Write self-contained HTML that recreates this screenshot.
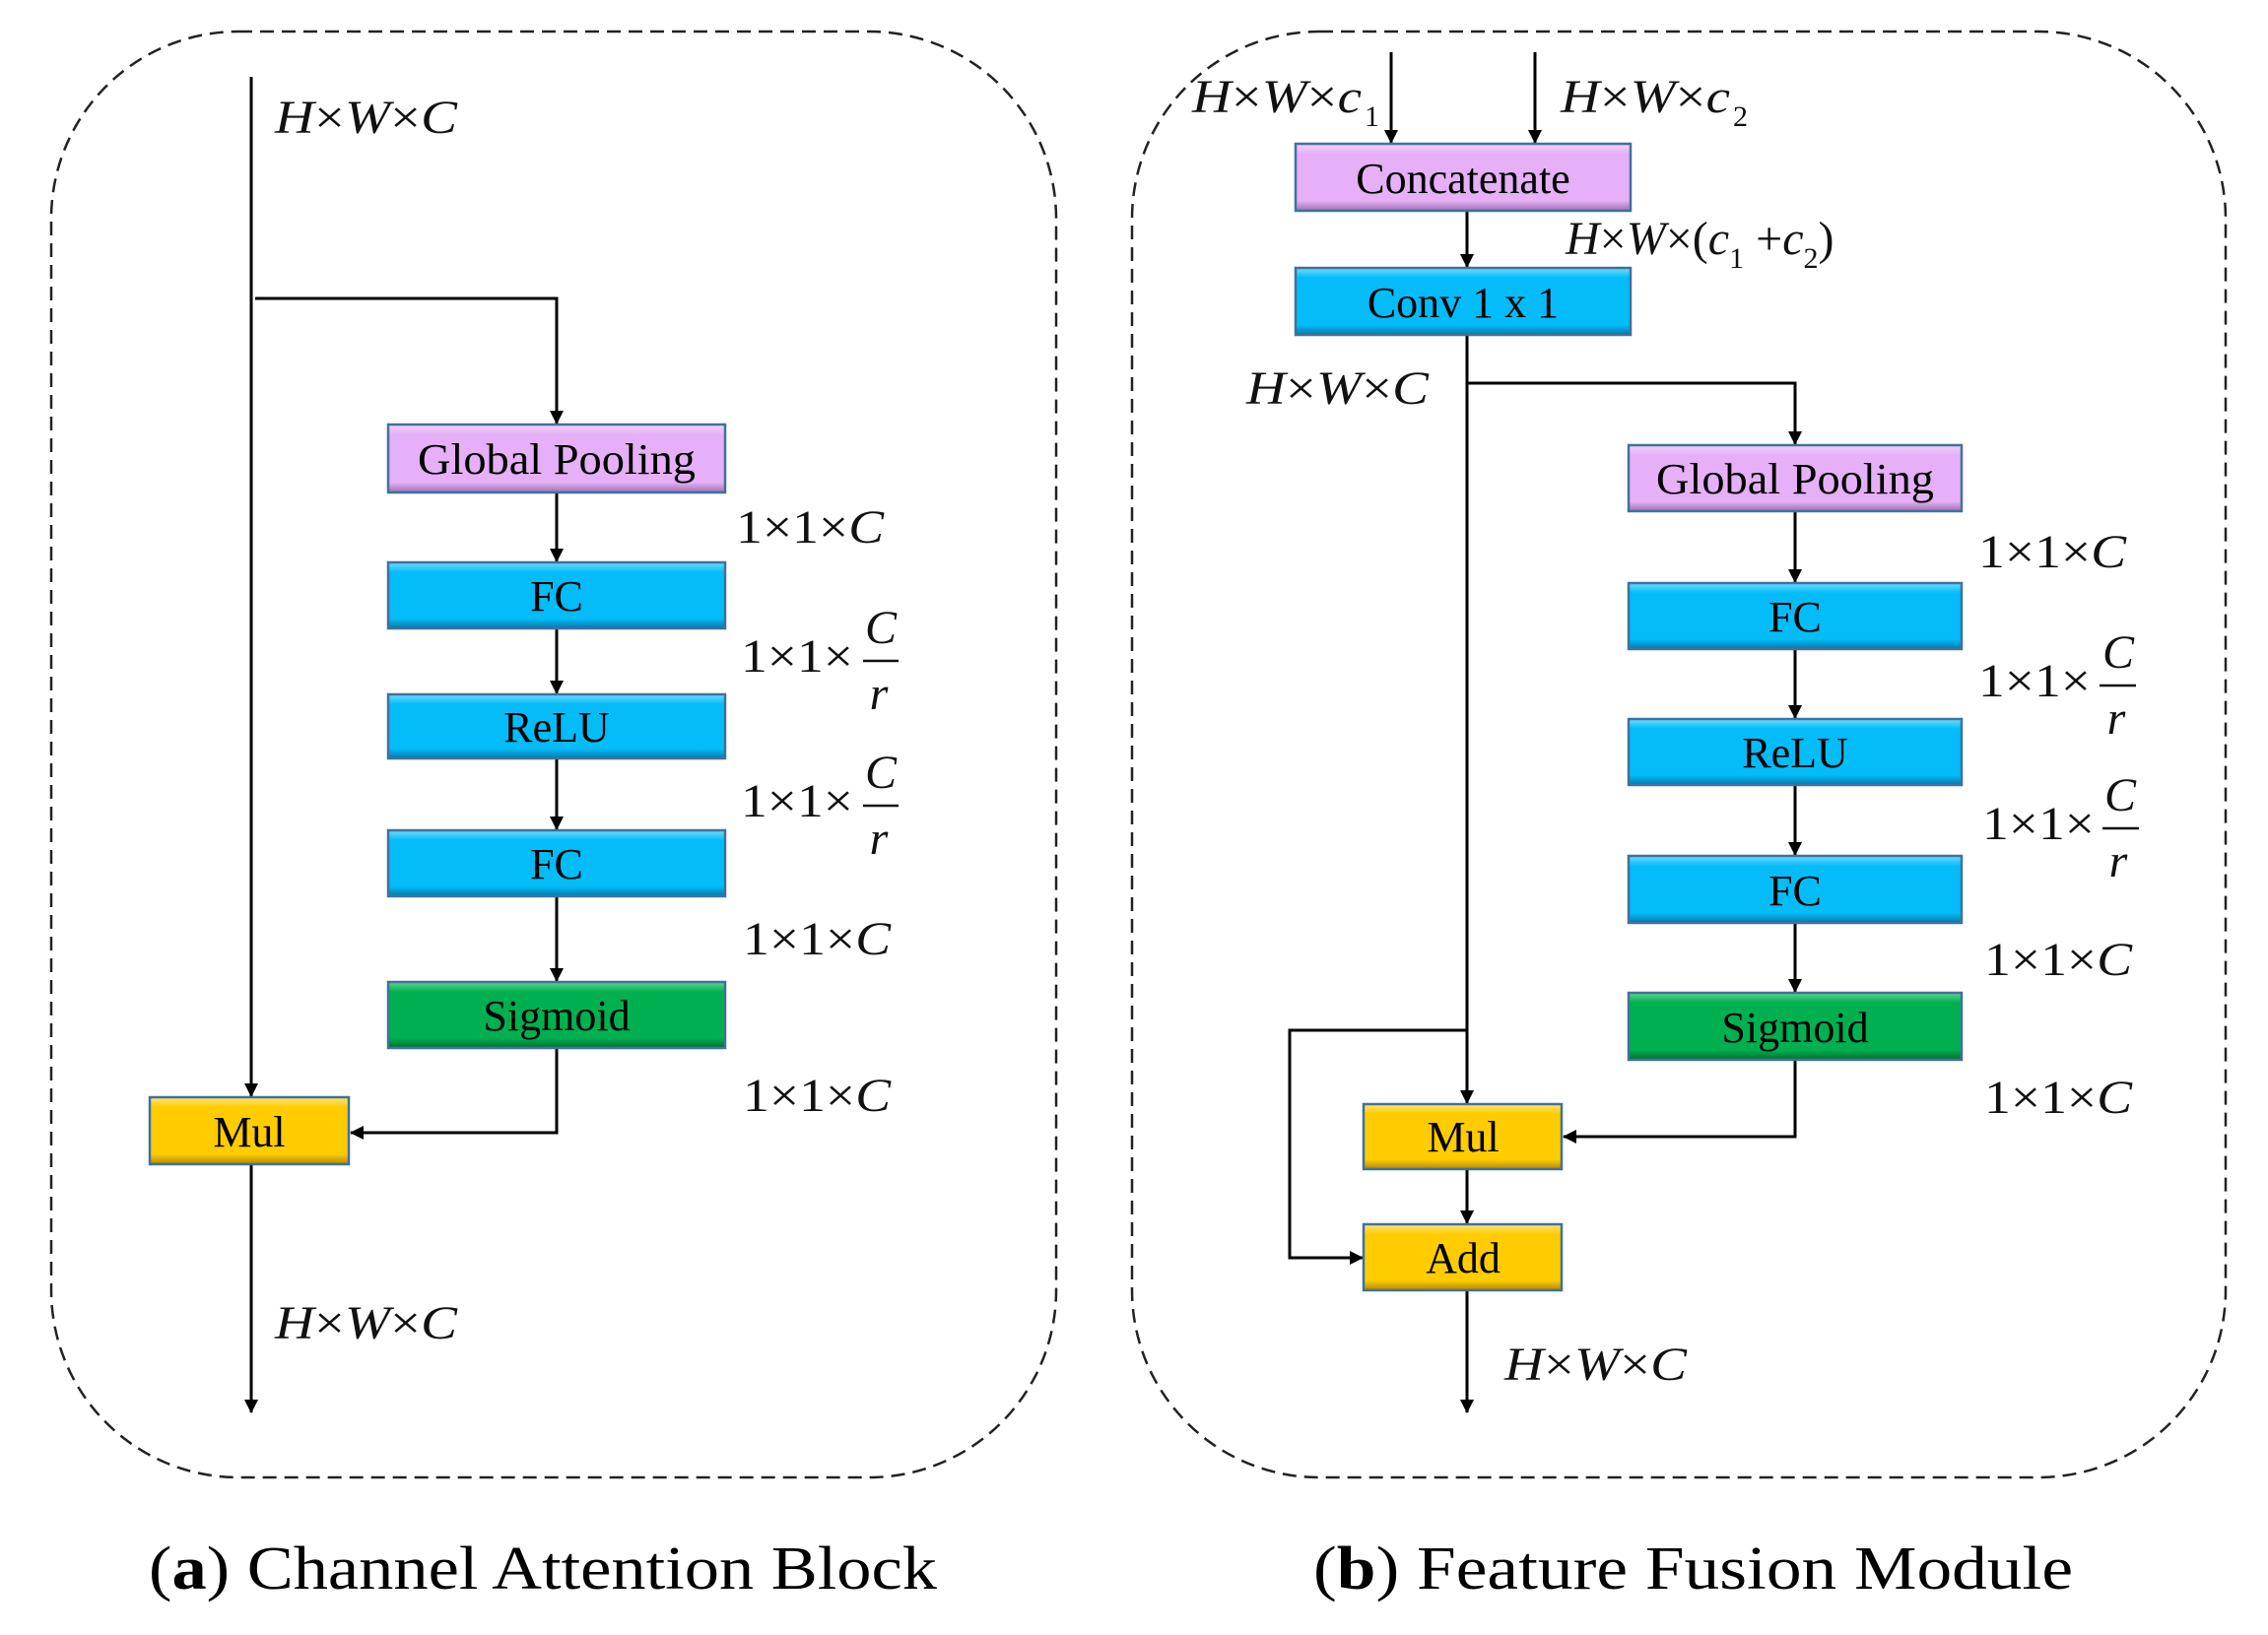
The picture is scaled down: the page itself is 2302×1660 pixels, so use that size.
<!DOCTYPE html>
<html><head><meta charset="utf-8"><style>
html,body{margin:0;padding:0;background:#fff;}
svg{display:block;}
.bt{font-family:"Liberation Serif",serif;font-size:44px;fill:#000;}
.mi{font-family:"Liberation Serif",serif;font-size:48px;font-style:italic;fill:#111;}
.mu{font-family:"Liberation Serif",serif;font-size:48px;fill:#111;}
.sub{font-family:"Liberation Serif",serif;font-size:30px;fill:#111;}
.cap{font-family:"Liberation Serif",serif;font-size:62px;fill:#000;}
</style></head><body>
<svg width="2302" height="1660" viewBox="0 0 2302 1660" xmlns="http://www.w3.org/2000/svg">
<defs>
<marker id="ah" markerWidth="14" markerHeight="16" refX="13" refY="7" orient="auto" markerUnits="userSpaceOnUse">
<path d="M0,0 L14,7 L0,14 Z" fill="#000"/>
</marker>
<linearGradient id="gp" x1="0" y1="0" x2="0" y2="1"><stop offset="0" stop-color="#f3d2fb"/><stop offset="0.15" stop-color="#e5b0f7"/><stop offset="0.85" stop-color="#e5b0f7"/><stop offset="1" stop-color="#9d6faf"/></linearGradient>
<linearGradient id="gb" x1="0" y1="0" x2="0" y2="1"><stop offset="0" stop-color="#6fdcff"/><stop offset="0.15" stop-color="#04bcf8"/><stop offset="0.85" stop-color="#04bcf8"/><stop offset="1" stop-color="#0278a8"/></linearGradient>
<linearGradient id="gg" x1="0" y1="0" x2="0" y2="1"><stop offset="0" stop-color="#5fd58f"/><stop offset="0.15" stop-color="#00b050"/><stop offset="0.85" stop-color="#00b050"/><stop offset="1" stop-color="#006e30"/></linearGradient>
<linearGradient id="gy" x1="0" y1="0" x2="0" y2="1"><stop offset="0" stop-color="#ffe57a"/><stop offset="0.15" stop-color="#ffcc00"/><stop offset="0.85" stop-color="#ffcc00"/><stop offset="1" stop-color="#b08800"/></linearGradient>
</defs>

<rect x="52" y="32" width="1020" height="1468" rx="190" ry="190" fill="none" stroke="#222" stroke-width="2.5" stroke-dasharray="14,8"/>
<rect x="1149" y="32" width="1110" height="1468" rx="190" ry="190" fill="none" stroke="#222" stroke-width="2.5" stroke-dasharray="14,8"/>

<g stroke="#000" stroke-width="3" fill="none">
<line x1="255" y1="78" x2="255" y2="1113" marker-end="url(#ah)"/>
<polyline points="259,303 565,303 565,430" marker-end="url(#ah)"/>
<line x1="565" y1="500" x2="565" y2="570" marker-end="url(#ah)"/>
<line x1="565" y1="638" x2="565" y2="704" marker-end="url(#ah)"/>
<line x1="565" y1="770" x2="565" y2="842" marker-end="url(#ah)"/>
<line x1="565" y1="910" x2="565" y2="996" marker-end="url(#ah)"/>
<polyline points="565,1064 565,1150 356,1150" marker-end="url(#ah)"/>
<line x1="255" y1="1182" x2="255" y2="1434" marker-end="url(#ah)"/>
<line x1="1412" y1="53" x2="1412" y2="145" marker-end="url(#ah)"/>
<line x1="1558" y1="53" x2="1558" y2="145" marker-end="url(#ah)"/>
<line x1="1489" y1="214" x2="1489" y2="271" marker-end="url(#ah)"/>
<line x1="1489" y1="340" x2="1489" y2="1120" marker-end="url(#ah)"/>
<polyline points="1489,389 1822,389 1822,451" marker-end="url(#ah)"/>
<line x1="1822" y1="519" x2="1822" y2="591" marker-end="url(#ah)"/>
<line x1="1822" y1="659" x2="1822" y2="729" marker-end="url(#ah)"/>
<line x1="1822" y1="797" x2="1822" y2="868" marker-end="url(#ah)"/>
<line x1="1822" y1="937" x2="1822" y2="1007" marker-end="url(#ah)"/>
<polyline points="1822,1076 1822,1154 1587,1154" marker-end="url(#ah)"/>
<polyline points="1489,1046 1309,1046 1309,1277 1383,1277" marker-end="url(#ah)"/>
<line x1="1489" y1="1187" x2="1489" y2="1242" marker-end="url(#ah)"/>
<line x1="1489" y1="1310" x2="1489" y2="1434" marker-end="url(#ah)"/>
</g>

<g stroke="#41719c" stroke-width="2.5">
<rect x="394" y="431" width="342" height="69" fill="url(#gp)"/>
<rect x="394" y="571" width="342" height="67" fill="url(#gb)"/>
<rect x="394" y="705" width="342" height="65" fill="url(#gb)"/>
<rect x="394" y="843" width="342" height="67" fill="url(#gb)"/>
<rect x="394" y="997" width="342" height="67" fill="url(#gg)"/>
<rect x="152" y="1114" width="202" height="68" fill="url(#gy)"/>
<rect x="1315" y="146" width="340" height="68" fill="url(#gp)"/>
<rect x="1315" y="272" width="340" height="68" fill="url(#gb)"/>
<rect x="1653" y="452" width="338" height="67" fill="url(#gp)"/>
<rect x="1653" y="592" width="338" height="67" fill="url(#gb)"/>
<rect x="1653" y="730" width="338" height="67" fill="url(#gb)"/>
<rect x="1653" y="869" width="338" height="68" fill="url(#gb)"/>
<rect x="1653" y="1008" width="338" height="68" fill="url(#gg)"/>
<rect x="1384" y="1121" width="201" height="66" fill="url(#gy)"/>
<rect x="1384" y="1243" width="201" height="67" fill="url(#gy)"/>
</g>

<g class="bt" text-anchor="middle">
<text x="565" y="481" textLength="282" lengthAdjust="spacingAndGlyphs">Global Pooling</text>
<text x="565" y="620">FC</text>
<text x="565" y="753">ReLU</text>
<text x="565" y="892">FC</text>
<text x="565" y="1046">Sigmoid</text>
<text x="253" y="1164">Mul</text>
<text x="1485" y="196">Concatenate</text>
<text x="1485" y="322">Conv 1 x 1</text>
<text x="1822" y="501" textLength="282" lengthAdjust="spacingAndGlyphs">Global Pooling</text>
<text x="1822" y="641">FC</text>
<text x="1822" y="779">ReLU</text>
<text x="1822" y="919">FC</text>
<text x="1822" y="1058">Sigmoid</text>
<text x="1485" y="1169">Mul</text>
<text x="1485" y="1292">Add</text>
</g>

<text class="mi" x="279" y="135" textLength="185" lengthAdjust="spacingAndGlyphs">H<tspan font-style="normal">×</tspan>W<tspan font-style="normal">×</tspan>C</text>
<text class="mi" x="279" y="1359" textLength="185" lengthAdjust="spacingAndGlyphs">H<tspan font-style="normal">×</tspan>W<tspan font-style="normal">×</tspan>C</text>
<text class="mu" x="747" y="551" textLength="150" lengthAdjust="spacingAndGlyphs">1×1×<tspan font-style="italic">C</tspan></text>
<text class="mu" x="754" y="969" textLength="150" lengthAdjust="spacingAndGlyphs">1×1×<tspan font-style="italic">C</tspan></text>
<text class="mu" x="754" y="1128" textLength="150" lengthAdjust="spacingAndGlyphs">1×1×<tspan font-style="italic">C</tspan></text>
<g>
<text class="mu" x="752" y="682" textLength="114" lengthAdjust="spacingAndGlyphs">1×1×</text>
<text class="mi" x="894" y="653" text-anchor="middle">C</text>
<line x1="876" y1="671" x2="912" y2="671" stroke="#111" stroke-width="2.5"/>
<text class="mi" x="892" y="720" text-anchor="middle">r</text>
</g>
<g>
<text class="mu" x="752" y="829" textLength="114" lengthAdjust="spacingAndGlyphs">1×1×</text>
<text class="mi" x="894" y="800" text-anchor="middle">C</text>
<line x1="876" y1="818" x2="912" y2="818" stroke="#111" stroke-width="2.5"/>
<text class="mi" x="892" y="867" text-anchor="middle">r</text>
</g>

<text class="mi" x="1210" y="114" textLength="172" lengthAdjust="spacingAndGlyphs">H<tspan font-style="normal">×</tspan>W<tspan font-style="normal">×</tspan>c</text>
<text class="sub" x="1385" y="128">1</text>
<text class="mi" x="1584" y="114" textLength="172" lengthAdjust="spacingAndGlyphs">H<tspan font-style="normal">×</tspan>W<tspan font-style="normal">×</tspan>c</text>
<text class="sub" x="1759" y="128">2</text>
<text class="mi" x="1589" y="258">H<tspan font-style="normal">×</tspan>W<tspan font-style="normal">×(</tspan>c<tspan class="sub" font-style="normal" dy="14">1</tspan><tspan font-style="normal" dy="-14"> +</tspan>c<tspan class="sub" font-style="normal" dy="14">2</tspan><tspan font-style="normal" dy="-14">)</tspan></text>
<text class="mi" x="1265" y="410" textLength="185" lengthAdjust="spacingAndGlyphs">H<tspan font-style="normal">×</tspan>W<tspan font-style="normal">×</tspan>C</text>
<text class="mi" x="1527" y="1401" textLength="185" lengthAdjust="spacingAndGlyphs">H<tspan font-style="normal">×</tspan>W<tspan font-style="normal">×</tspan>C</text>
<text class="mu" x="2008" y="576" textLength="150" lengthAdjust="spacingAndGlyphs">1×1×<tspan font-style="italic">C</tspan></text>
<text class="mu" x="2014" y="990" textLength="150" lengthAdjust="spacingAndGlyphs">1×1×<tspan font-style="italic">C</tspan></text>
<text class="mu" x="2014" y="1130" textLength="150" lengthAdjust="spacingAndGlyphs">1×1×<tspan font-style="italic">C</tspan></text>
<g>
<text class="mu" x="2008" y="707" textLength="114" lengthAdjust="spacingAndGlyphs">1×1×</text>
<text class="mi" x="2150" y="678" text-anchor="middle">C</text>
<line x1="2131" y1="696" x2="2168" y2="696" stroke="#111" stroke-width="2.5"/>
<text class="mi" x="2148" y="745" text-anchor="middle">r</text>
</g>
<g>
<text class="mu" x="2012" y="852" textLength="114" lengthAdjust="spacingAndGlyphs">1×1×</text>
<text class="mi" x="2152" y="823" text-anchor="middle">C</text>
<line x1="2134" y1="841" x2="2171" y2="841" stroke="#111" stroke-width="2.5"/>
<text class="mi" x="2150" y="890" text-anchor="middle">r</text>
</g>

<text class="cap" x="151" y="1613" textLength="800" lengthAdjust="spacingAndGlyphs">(<tspan font-weight="bold">a</tspan>) Channel Attention Block</text>
<text class="cap" x="1333" y="1613" textLength="771" lengthAdjust="spacingAndGlyphs">(<tspan font-weight="bold">b</tspan>) Feature Fusion Module</text>
</svg>
</body></html>
